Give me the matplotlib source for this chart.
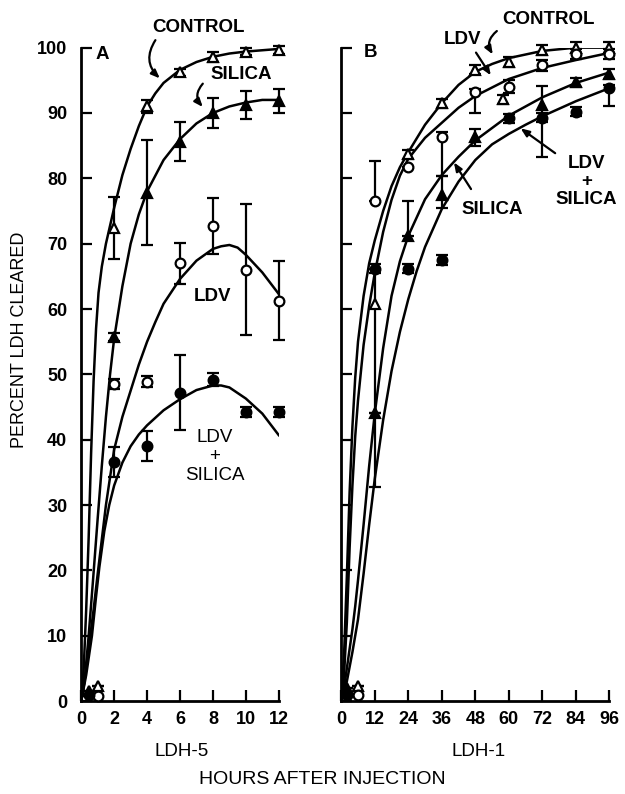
import matplotlib
matplotlib.use("Agg")
import matplotlib.pyplot as plt
import numpy as np

plt.rcParams['font.family'] = ['Liberation Sans', 'DejaVu Sans']

# ---- panel A (LDH-5), hours 0-12 ----
a_hours = [0.5, 1, 2, 4, 6, 8, 10, 12]
a_ctrl = [np.nan, 2.3, 72.4, 91.0, 96.2, 98.6, 99.4, 99.7]
a_ctrl_err = [0, 0, 4.7, 1.0, 0.6, 0.8, 0.6, 0.6]
a_sil = [1.5, np.nan, 55.7, 77.8, 85.6, 90.0, 91.2, 91.8]
a_sil_err = [0, 0, 0.6, 8.0, 3.0, 2.3, 2.1, 1.8]
a_ldv = [np.nan, 0.8, 48.5, 48.9, 67.0, 72.7, 66.0, 61.3]
a_ldv_err = [0, 0, 0.8, 0.8, 3.1, 4.3, 10.0, 6.0]
a_ls = [1.0, np.nan, 36.6, 39.0, 47.2, 49.2, 44.2, 44.2]
a_ls_err = [0, 0, 2.3, 2.3, 5.7, 1.0, 0.8, 0.8]

# fitted curves
a_ctrl_t = [0, 0.15, 0.3, 0.45, 0.6, 0.75, 0.9, 1.05, 1.25, 1.5, 2, 2.5, 3, 3.5, 4, 4.5, 5, 6, 7, 8, 9, 10, 11, 12]
a_ctrl_c = [0, 5, 14, 25, 38, 49, 57, 62.5, 66.5, 70, 75.5, 80.5, 84.5, 88, 91, 93, 94.6, 96.6, 97.8, 98.6, 99.1, 99.4, 99.6, 99.8]
a_sil_t = [0, 0.2, 0.45, 0.7, 1.0, 1.25, 1.5, 1.75, 2, 2.5, 3, 3.5, 4, 5, 6, 7, 8, 9, 10, 11, 12]
a_sil_c = [0, 3, 10, 18, 28, 36, 43.5, 50, 55.5, 63.5, 70, 74.5, 78, 82.8, 86, 88.4, 90, 91, 91.6, 92, 92]
a_ldv_t = [0, 0.25, 0.55, 0.75, 1, 1.5, 2, 2.5, 3, 3.5, 4, 4.5, 5, 6, 7, 8, 8.5, 9, 9.5, 10, 11, 12]
a_ldv_c = [0, 4, 10, 14, 19.5, 30, 38.5, 43.5, 47.5, 51.5, 55, 58, 60.8, 64.6, 67.4, 69.2, 69.6, 69.8, 69.4, 68.3, 65.6, 62.3]
a_ls_t = [0, 0.3, 0.65, 0.9, 1.1, 1.4, 1.7, 2, 2.5, 3, 3.5, 4, 5, 6, 7, 8, 8.5, 9, 10, 11, 12]
a_ls_c = [0, 4, 10, 16, 20.5, 26, 30, 33, 36.5, 39, 40.8, 42.2, 44.5, 46.2, 47.6, 48.3, 48.3, 48, 46.3, 44, 40.7]

# ---- panel B (LDH-1), hours 0-96 ----
b_hours = [2, 6, 12, 24, 36, 48, 58, 60, 72, 84, 96]
b_ctrl = [np.nan, 2.3, 60.7, 83.7, 91.5, 96.6, 92.1, 97.8, 99.6, 100.0, 100.0]
b_ctrl_lo = [0, 0, 28.0, 0.7, 0.7, 0.7, 0.7, 0.7, 0.8, 0.8, 0.8]
b_ctrl_up = [0, 0, 5.5, 0.7, 0.7, 0.7, 0.7, 0.7, 0.8, 0.8, 0.8]
b_ldv = [np.nan, 1.0, 76.6, 81.7, 86.3, 93.2, np.nan, 94.0, 97.3, 99.0, 99.0]
b_ldv_lo = [0, 0, 0, 0, 6.0, 3.2, 0, 1.0, 0.8, 0.8, 0.8]
b_ldv_up = [0, 0, 6.0, 0, 0.8, 0.5, 0, 1.0, 0.8, 0.8, 0.8]
b_sil = [2.0, np.nan, 44.1, 71.2, 77.4, 86.3, np.nan, np.nan, 91.2, 94.7, 96.0]
b_sil_lo = [0, 0, 0, 0, 2.0, 1.3, 0, 0, 7.9, 0.7, 0.8]
b_sil_up = [0, 0, 0, 5.4, 2.9, 1.3, 0, 0, 2.9, 0.7, 0.8]
b_ls = [1.0, np.nan, 66.2, 66.2, 67.5, np.nan, np.nan, 89.2, 89.3, 90.2, 93.8]
b_ls_lo = [0, 0, 0.7, 0.7, 0.7, 0, 0, 0.7, 0.7, 0.7, 2.8]
b_ls_up = [0, 0, 0.7, 0.7, 0.7, 0, 0, 0.7, 0.7, 0.7, 0.5]

b_ctrl_t = [0, 1, 2, 3, 4, 5, 6, 8, 10, 12, 15, 18, 21, 24, 30, 36, 42, 48, 54, 60, 72, 84, 96]
b_ctrl_c = [0, 7, 19, 32, 42, 49.5, 55, 62, 67, 70.5, 75, 78.8, 81.7, 84, 88.2, 91.5, 94.3, 96.3, 97.5, 98.4, 99.5, 100, 100]
b_ldv_t = [0, 1, 2, 3, 4, 5, 6, 8, 10, 12, 15, 18, 21, 24, 30, 36, 42, 48, 60, 72, 84, 96]
b_ldv_c = [0, 4, 12, 23.5, 33, 40.5, 46, 54.5, 60.5, 65.5, 71.8, 76.7, 80.4, 83, 86.2, 88.5, 90.8, 92.6, 95.2, 96.9, 98.1, 99.2]
b_sil_t = [0, 1, 2, 3, 4, 5, 6, 8, 10, 12, 15, 18, 21, 24, 30, 36, 42, 48, 60, 72, 84, 96]
b_sil_c = [0, 2, 5, 8, 11, 14.5, 18.5, 27, 36, 44, 54, 62, 67.3, 71.2, 76.8, 80.5, 83.3, 85.8, 89.6, 92.4, 94.6, 96.2]
b_ls_t = [0, 2, 4, 6, 8, 10, 12, 15, 18, 21, 24, 27, 30, 36, 42, 48, 54, 60, 66, 72, 84, 96]
b_ls_c = [0, 3, 7.5, 12.5, 19.5, 27, 34, 43, 50.5, 56.5, 61.5, 65.8, 69.5, 75.3, 79.5, 82.8, 85.2, 86.8, 88.2, 89.5, 91.8, 93.8]

yticks = list(range(0, 101, 10))
a_xticks = [0, 2, 4, 6, 8, 10, 12]
b_xticks = [0, 12, 24, 36, 48, 60, 72, 84, 96]

fig = plt.figure(figsize=(6.25, 7.94), dpi=100)
axA = fig.add_axes([0.13, 0.117, 0.316, 0.823])
axB = fig.add_axes([0.546, 0.117, 0.429, 0.823])

LW = 1.8
bold = dict(fontsize=13.5, fontweight='bold')


def style(ax, xticks, xmax, ylabels):
    ax.set_xlim(0, xmax)
    ax.set_ylim(0, 100)
    for s in ['top', 'right']:
        ax.spines[s].set_visible(False)
    for s in ['left', 'bottom']:
        ax.spines[s].set_linewidth(2)
    ax.set_xticks(xticks)
    ax.set_yticks(yticks)
    ax.tick_params(direction='in', length=8, width=1.6, pad=7, labelsize=13)
    ax.tick_params(axis='y', pad=10)
    if not ylabels:
        ax.set_yticklabels([])
    for lab in ax.get_xticklabels() + ax.get_yticklabels():
        lab.set_fontweight('bold')


def series(ax, x, y, lo, up, marker, filled):
    ax.errorbar(x, y, yerr=[lo, up], fmt=marker, color='black', ms=7,
                mfc='black' if filled else 'white', mec='black', mew=1.6,
                capsize=4.5, elinewidth=1.6, capthick=1.6, clip_on=False, zorder=3)


# panel A
for t, c in [(a_ctrl_t, a_ctrl_c), (a_sil_t, a_sil_c), (a_ldv_t, a_ldv_c), (a_ls_t, a_ls_c)]:
    axA.plot(t, c, color='black', lw=LW, solid_joinstyle='round')
series(axA, a_hours, a_ctrl, a_ctrl_err, a_ctrl_err, '^', False)
series(axA, a_hours, a_sil, a_sil_err, a_sil_err, '^', True)
series(axA, a_hours, a_ldv, a_ldv_err, a_ldv_err, 'o', False)
series(axA, a_hours, a_ls, a_ls_err, a_ls_err, 'o', True)
style(axA, a_xticks, 12, True)

axA.text(1.3, 98.9, 'A', ha='center', va='center', **bold)
axA.text(7.1, 103.1, 'CONTROL', ha='center', va='center', clip_on=False, **bold)
axA.text(9.7, 95.9, 'SILICA', ha='center', va='center', **bold)
axA.text(7.95, 61.9, 'LDV', ha='center', va='center', fontsize=13.5, fontweight='bold')
axA.text(8.1, 37.5, 'LDV\n+\nSILICA', ha='center', va='center', fontsize=13.5,
         linespacing=1.15)
arrow = dict(arrowstyle='-|>,head_length=0.5,head_width=0.2', color='black', lw=1.6)
axA.annotate('', xy=(4.9, 95.0), xytext=(4.6, 101.5),
             arrowprops=dict(connectionstyle='arc3,rad=0.45', **arrow), annotation_clip=False)
axA.annotate('', xy=(7.5, 90.6), xytext=(7.5, 94.8),
             arrowprops=dict(connectionstyle='arc3,rad=0.5', **arrow), annotation_clip=False)

# panel B
for t, c in [(b_ctrl_t, b_ctrl_c), (b_ldv_t, b_ldv_c), (b_sil_t, b_sil_c), (b_ls_t, b_ls_c)]:
    axB.plot(t, c, color='black', lw=LW, solid_joinstyle='round')
series(axB, b_hours, b_ctrl, b_ctrl_lo, b_ctrl_up, '^', False)
series(axB, b_hours, b_ldv, b_ldv_lo, b_ldv_up, 'o', False)
series(axB, b_hours, b_sil, b_sil_lo, b_sil_up, '^', True)
series(axB, b_hours, b_ls, b_ls_lo, b_ls_up, 'o', True)
style(axB, b_xticks, 96, False)

axB.text(10.4, 99.2, 'B', ha='center', va='center', **bold)
axB.text(74.2, 104.3, 'CONTROL', ha='center', va='center', **bold)
axB.text(43.4, 101.2, 'LDV', ha='center', va='center', **bold)
axB.text(54.1, 75.2, 'SILICA', ha='center', va='center', **bold)
axB.text(87.8, 79.5, 'LDV\n+\nSILICA', ha='center', va='center', linespacing=1.1, **bold)
axB.annotate('', xy=(54.8, 98.6), xytext=(56.5, 102.8),
             arrowprops=dict(connectionstyle='arc3,rad=0.5', **arrow), annotation_clip=False)
axB.annotate('', xy=(54.1, 95.4), xytext=(47.7, 99.6), arrowprops=arrow, annotation_clip=False)
axB.annotate('', xy=(39.8, 82.8), xytext=(47.0, 78.0), arrowprops=arrow)
axB.annotate('', xy=(63.4, 87.9), xytext=(77.4, 83.6), arrowprops=arrow)

fig.text(0.032, 0.572, 'PERCENT LDH CLEARED', rotation=90, ha='center', va='center', fontsize=13)
fig.text(0.291, 0.053, 'LDH-5', ha='center', va='center', fontsize=13.5)
fig.text(0.765, 0.053, 'LDH-1', ha='center', va='center', fontsize=13.5)
fig.text(0.515, 0.018, 'HOURS AFTER INJECTION', ha='center', va='center', fontsize=14)

fig.savefig('out.png', dpi=100)
